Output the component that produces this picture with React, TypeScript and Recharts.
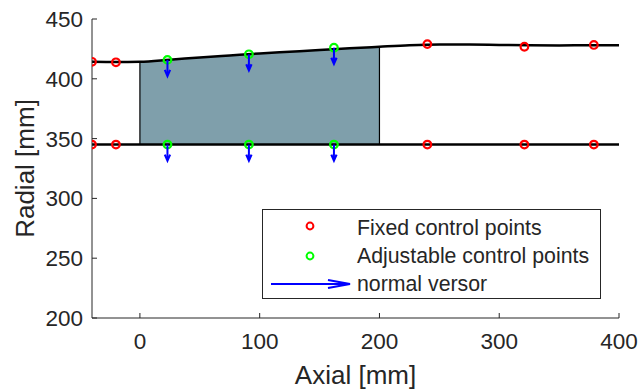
import React from 'react';
import { ComposedChart, Line, Area, XAxis, YAxis, Legend, Label } from 'recharts';

// ---- data ----
const xTicks = [0, 100, 200, 300, 400];
const yTicks = [200, 250, 300, 350, 400, 450];
const xDomain = [-40, 400];
const yDomain = [200, 450];

const upperX = [-40, -20, 0, 25, 50, 75, 100, 125, 150, 175, 200, 225, 250, 275, 300, 325, 350, 375, 400];
const upperR = [414.2, 414.0, 414.3, 416.0, 417.8, 419.5, 421.2, 422.6, 424.0, 425.5, 426.8, 428.0, 428.6, 428.6, 428.3, 428.0, 427.9, 428.0, 428.0];
const lowerX = [-40, 400];
const lowerR = [345, 345];

const fixedX = [-40, -20, 240, 321, 379];
const fixedUpperR = [414.2, 413.8, 429.0, 426.8, 428.3];
const fixedLowerR = [345, 345, 345, 345, 345];

const adjX = [23, 91, 162];
const adjUpperR = [415.8, 420.5, 426.0];
const adjLowerR = [345, 345, 345];

const fillStart = 0;
const fillEnd = 200;

const legendLabels = ['Fixed control points', 'Adjustable control points', 'normal versor'];

// ---- derived ----
const zip = (xs: number[], rs: number[]) => xs.map((x, i) => ({ x, r: rs[i] }));
const upperData = zip(upperX, upperR);
const lowerData = zip(lowerX, lowerR);
const fixedData = [...zip(fixedX, fixedUpperR), ...zip(fixedX, fixedLowerR)];
const adjData = [...zip(adjX, adjUpperR), ...zip(adjX, adjLowerR)];
const upperAt = (x: number) => upperData.find((p) => p.x === x)!.r;
const fillData = upperData
  .filter((p) => p.x >= fillStart && p.x <= fillEnd)
  .map((p) => ({ x: p.x, range: [lowerR[0], p.r] }));
const edgeStart = [{ x: fillStart, r: lowerR[0] }, { x: fillStart, r: upperAt(fillStart) }];
const edgeEnd = [{ x: fillEnd, r: lowerR[0] }, { x: fillEnd, r: upperAt(fillEnd) }];

// ---- styles ----
const AXIS = '#262626';
const FONT = '"Liberation Sans", Arial, Helvetica, sans-serif';
const RED = '#ff0000';
const GREEN = '#00ff00';
const BLUE = '#0000ff';
const FILL = '#7f9fab';

const circleDot = (color: string) => (props: any) => {
  const { cx, cy, index } = props;
  if (cx == null || cy == null) return <g key={`n-${color}-${index}`} />;
  return <circle key={`c-${color}-${index}`} cx={cx} cy={cy} r={3.8} fill="none" stroke={color} strokeWidth={2.2} />;
};

const arrowDot = (props: any) => {
  const { cx, cy, index } = props;
  if (cx == null || cy == null) return <g key={`na-${index}`} />;
  const len = 16;
  const tipY = cy + len;
  return (
    <g key={`a-${index}`}>
      <line x1={cx} y1={cy} x2={cx} y2={tipY - 1} stroke={BLUE} strokeWidth={2} />
      <polyline points={`${cx - 2.6},${tipY - 6} ${cx},${tipY} ${cx + 2.6},${tipY - 6}`} fill="none" stroke={BLUE} strokeWidth={2.2} />
    </g>
  );
};

const LegendBox = () => (
  <div style={{ width: 339, height: 90, boxSizing: 'border-box', border: `1px solid ${AXIS}`, background: '#fff' }}>
    <svg width={337} height={88} style={{ display: 'block' }}>
      <circle cx={47} cy={16} r={3.4} fill="none" stroke={RED} strokeWidth={2} />
      <circle cx={47} cy={46} r={3.4} fill="none" stroke={GREEN} strokeWidth={2} />
      <line x1={8} y1={74} x2={87} y2={74} stroke={BLUE} strokeWidth={2} />
      <polyline points="65,70 87,74 65,78" fill="none" stroke={BLUE} strokeWidth={2.2} />
      {legendLabels.map((t, i) => (
        <text key={t} x={94} y={25 + i * 28} fontSize={21.3} fill={AXIS} fontFamily={FONT}>
          {t}
        </text>
      ))}
    </svg>
  </div>
);

const tickStyle = { fill: AXIS, fontSize: 22.5, fontFamily: FONT };

export default function App() {
  return (
    <div style={{ position: 'absolute', left: 0, top: 0, background: '#fff' }}>
      <ComposedChart
        width={640}
        height={389}
        margin={{ top: 19, right: 21, left: 0, bottom: 0 }}
        style={{ fontFamily: FONT }}
      >
        <XAxis
          dataKey="x"
          type="number"
          domain={xDomain}
          ticks={xTicks}
          interval={0}
          allowDataOverflow
          height={71}
          stroke={AXIS}
          tickSize={-5}
          tickMargin={20.5}
          tick={tickStyle}
          label={{ value: 'Axial [mm]', position: 'insideBottom', offset: 5, fill: AXIS, fontSize: 26, fontFamily: FONT }}
        />
        <XAxis
          xAxisId="top"
          orientation="top"
          dataKey="x"
          type="number"
          domain={xDomain}
          ticks={xTicks}
          interval={0}
          allowDataOverflow
          height={0}
          stroke={AXIS}
          tickSize={-5}
          tickFormatter={() => ''}
        />
        <YAxis
          type="number"
          domain={yDomain}
          ticks={yTicks}
          interval={0}
          allowDataOverflow
          width={92}
          stroke={AXIS}
          tickSize={-5}
          tickMargin={14}
          tick={tickStyle}
        >
          <Label
            content={(p: any) => {
              const vb = p.viewBox || { x: 0, y: 19, width: 92, height: 299 };
              const cx = vb.x + 33.5;
              const cy = vb.y + vb.height / 2;
              return (
                <text
                  x={cx}
                  y={cy}
                  transform={`rotate(-90, ${cx}, ${cy})`}
                  textAnchor="middle"
                  fontSize={26}
                  fill={AXIS}
                  fontFamily={FONT}
                >
                  Radial [mm]
                </text>
              );
            }}
          />
        </YAxis>
        <YAxis
          yAxisId="right"
          orientation="right"
          type="number"
          domain={yDomain}
          ticks={yTicks}
          interval={0}
          allowDataOverflow
          width={0}
          stroke={AXIS}
          tickSize={-5}
          tickFormatter={() => ''}
        />
        <Legend
          layout="horizontal"
          verticalAlign="middle"
          align="center"
          wrapperStyle={{ position: 'absolute', left: 262, top: 209, width: 339, height: 90 }}
          content={() => <LegendBox />}
        />
        <Area
          data={fillData}
          dataKey="range"
          type="linear"
          fill={FILL}
          fillOpacity={1}
          stroke="none"
          isAnimationActive={false}
          legendType="none"
        />
        <Line data={edgeStart} dataKey="r" type="linear" stroke="#000" strokeWidth={1.2} dot={false} activeDot={false} isAnimationActive={false} legendType="none" />
        <Line data={edgeEnd} dataKey="r" type="linear" stroke="#000" strokeWidth={1.2} dot={false} activeDot={false} isAnimationActive={false} legendType="none" />
        <Line data={fixedData} dataKey="r" stroke="none" dot={circleDot(RED)} activeDot={false} isAnimationActive={false} legendType="none" />
        <Line data={adjData} dataKey="r" stroke="none" dot={circleDot(GREEN)} activeDot={false} isAnimationActive={false} legendType="none" />
        <Line data={upperData} dataKey="r" type="monotone" stroke="#000" strokeWidth={2.5} dot={false} activeDot={false} isAnimationActive={false} legendType="none" />
        <Line data={lowerData} dataKey="r" type="linear" stroke="#000" strokeWidth={2.5} dot={false} activeDot={false} isAnimationActive={false} legendType="none" />
        <Line data={adjData} dataKey="r" stroke="none" dot={arrowDot} activeDot={false} isAnimationActive={false} legendType="none" />
      </ComposedChart>
    </div>
  );
}
